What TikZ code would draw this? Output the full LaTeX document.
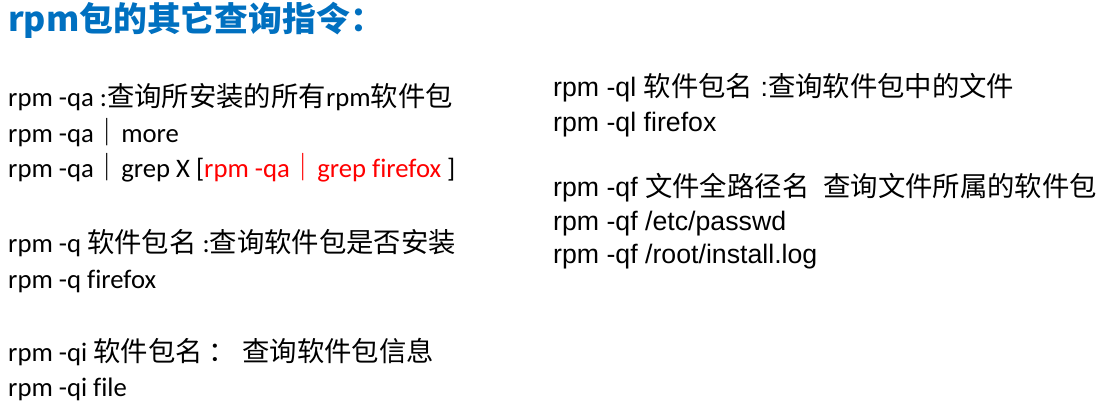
\documentclass[tikz,border=0pt]{standalone}
\usepackage{fontspec}
\setmainfont{Carlito}[Ligatures=NoCommon]
\newfontfamily\arialfont{Liberation Sans}[Ligatures=NoCommon]
\newfontfamily\cjk{Noto Sans CJK SC}[Scale=1.025]
\newcommand\zh[1]{{\cjk #1}}
\definecolor{titleblue}{HTML}{0070C0}
\definecolor{cmdred}{HTML}{FF0000}
\tikzset{
  txt/.style={anchor=base west, inner sep=0pt, text=black},
  lt/.style={txt, font=\fontsize{26.7}{30}\selectfont},
  rt/.style={txt, font=\arialfont\fontsize{26.7}{30}\selectfont},
  ttl/.style={anchor=base west, inner sep=0pt, text=titleblue, font=\cjk\bfseries\fontsize{33}{36}\selectfont},
}
\begin{document}
\begin{tikzpicture}[x=1pt,y=1pt]
\useasboundingbox (0,0) rectangle (1117,-413);
\node[ttl] (title) at (8,-31) {rpm包的其它查询指令：};

\node[lt] (l1) at (8,-106.5) {rpm -qa :\zh{查询所安装的所有}rpm\zh{软件包}};
\node[lt] (l2) at (8,-142) {rpm -qa\zh{｜}more};
\node[lt] (l3) at (8,-177.5) {rpm -qa\zh{｜}grep X [\textcolor{cmdred}{rpm -qa\zh{｜}grep firefox }]};
\node[lt] (l4) at (8,-252) {rpm -q \zh{软件包名} :\zh{查询软件包是否安装}};
\node[lt] (l5) at (8,-288) {rpm -q firefox};
\node[lt] (l6) at (8,-361) {rpm -qi \zh{软件包名 ： 查询软件包信息}};
\node[lt] (l7) at (8,-396) {rpm -qi file};

\node[rt] (r1) at (553,-96) {rpm -ql \zh{软件包名} :\zh{查询软件包中的文件}};
\node[rt] (r2) at (553,-131) {rpm -ql firefox};
\node[rt] (r3) at (553,-196) {rpm -qf \zh{文件全路径名\hspace{14pt}查询文件所属的软件包}};
\node[rt] (r4) at (553,-230) {rpm -qf /etc/passwd};
\node[rt] (r5) at (553,-263) {rpm -qf /root/install.log};
\end{tikzpicture}
\end{document}
